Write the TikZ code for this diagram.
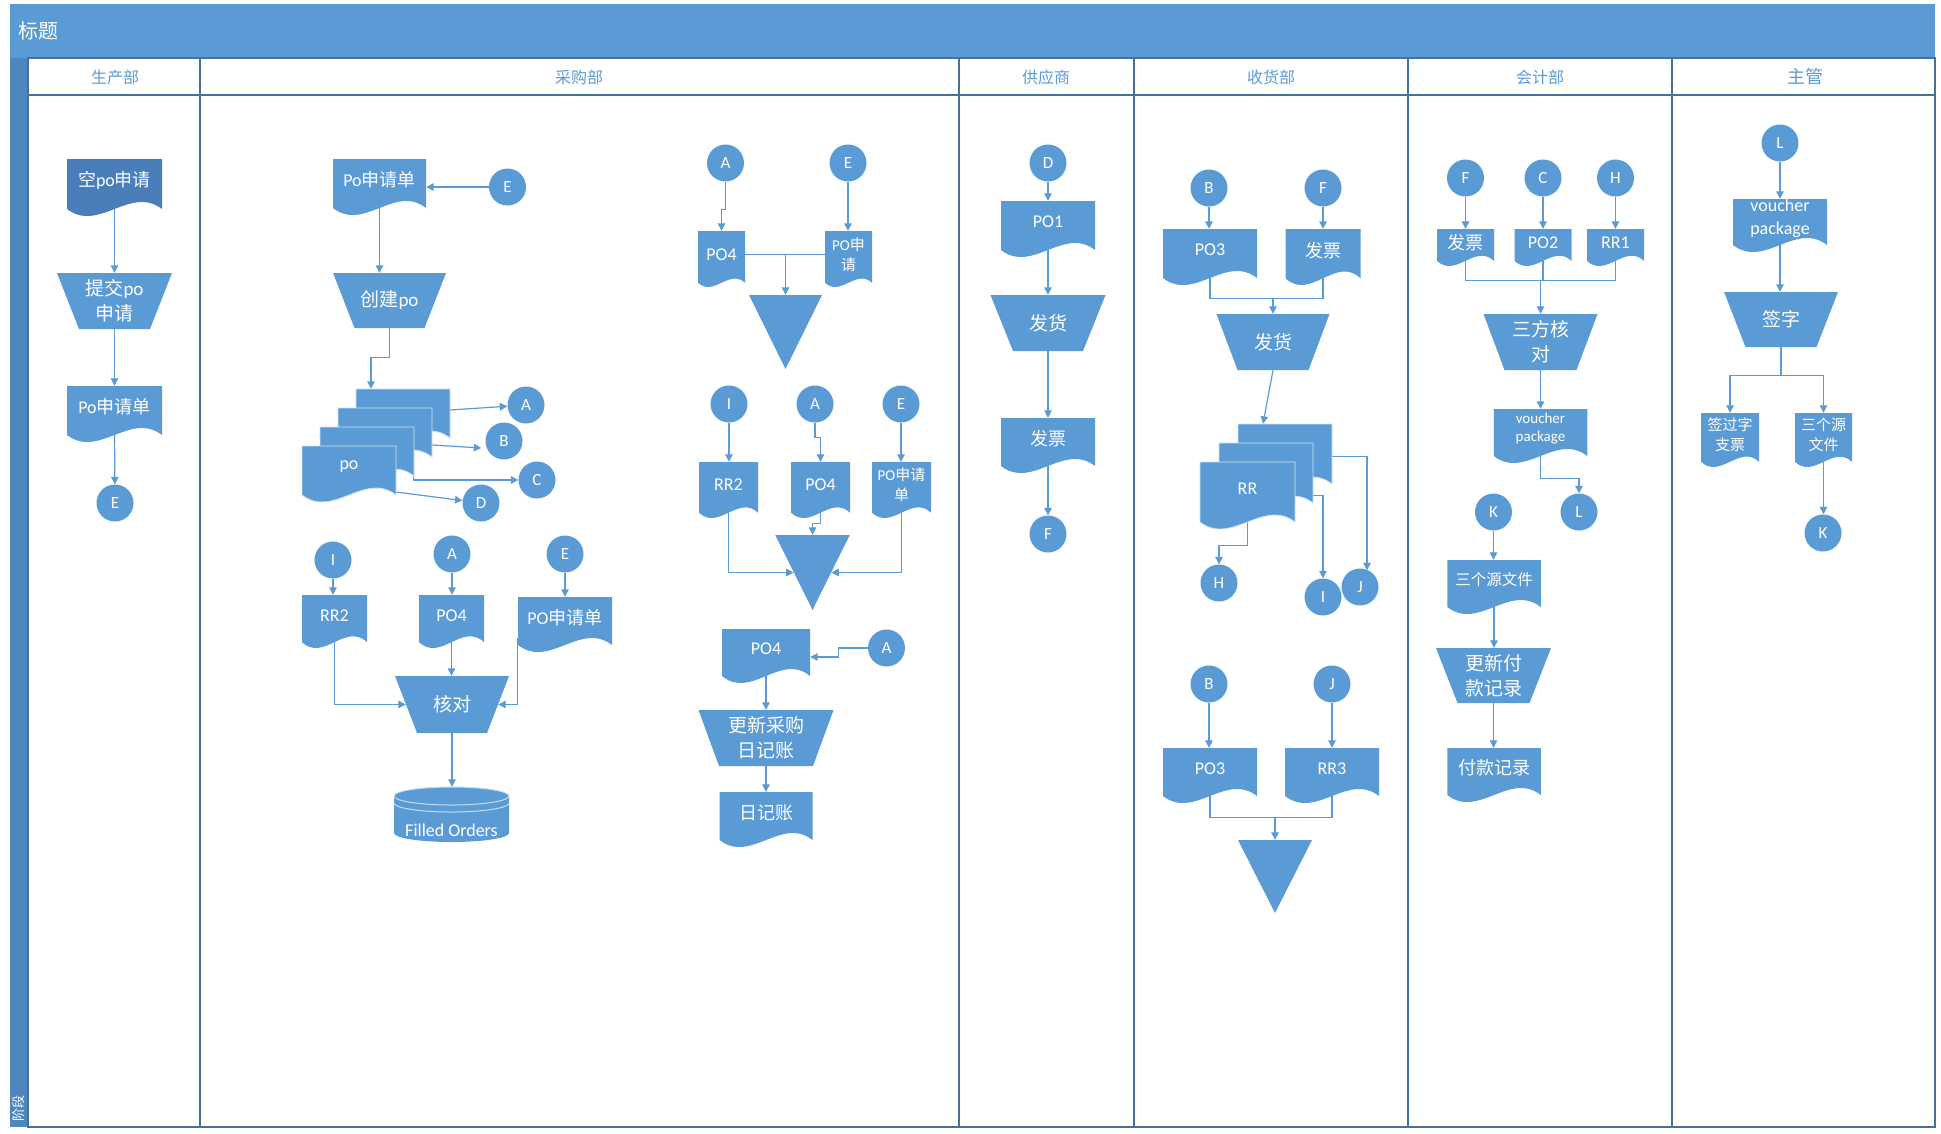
\documentclass[tikz,border=0pt]{standalone}
\usepackage{fontspec}
\setmainfont{Carlito}
\newfontfamily\cjk{Noto Sans CJK SC}
\newcommand\zh[1]{{\cjk #1}}
\usetikzlibrary{arrows.meta}
\pgfdeclarelayer{frame}
\pgfdeclarelayer{conn}
\pgfsetlayers{frame,conn,main}
\definecolor{shp}{HTML}{5B9BD5}
\definecolor{shpdark}{HTML}{4A7EBB}
\definecolor{titlec}{HTML}{5B9BD5}
\definecolor{stripc}{HTML}{4F86BE}
\definecolor{lanec}{HTML}{41719C}
\definecolor{conc}{HTML}{5B9BD5}
\definecolor{headc}{HTML}{5B9BD5}
\tikzset{
 docfill/.style={fill=shp},
 trapfill/.style={fill=shp},
 doctext/.style={text=white,align=center,inner sep=0pt,font=\fontsize{18}{23}\selectfont},
 smalltext/.style={font=\fontsize{15}{20}\selectfont},
 traptext/.style={text=white,align=center,inner sep=0pt,font=\fontsize{19}{25}\selectfont},
 circ/.style={circle,fill=shp,text=white,inner sep=0pt,minimum size=37pt,font=\fontsize{17}{17}\selectfont},
 arr/.style={draw=conc,line width=1.2pt,-{Triangle[length=7.5pt,width=7.5pt]}},
 ln/.style={draw=conc,line width=1.2pt},
 hdr/.style={text=headc,font=\fontsize{16}{16}\selectfont},
 lane/.style={draw=lanec,line width=1.3pt},
}
% document shape: [node opts]{name}{cx}{top}{w}{h}{text}
\newcommand\DOC[7][]{%
  \pgfmathsetmacro\dxa{#3-#5/2}%
  \pgfmathsetmacro\dxb{#3+#5/2}%
  \pgfmathsetmacro\dwv{min(7,0.09*#5)}%
  \pgfmathsetmacro\dyb{#4+#6-\dwv}%
  \pgfmathsetmacro\dk{3.46*\dwv}%
  \pgfmathsetmacro\dca{#3-#5/2+2*#5/3}%
  \pgfmathsetmacro\dcb{#3-#5/2+#5/3}%
  \pgfmathsetmacro\dnh{#6-2*\dwv}%
  \path[docfill] (\dxa,#4) -- (\dxb,#4) -- (\dxb,\dyb) .. controls ({\dca},{\dyb-\dk}) and ({\dcb},{\dyb+\dk}) .. (\dxa,\dyb) -- cycle;
  \node[doctext,#1,minimum width=#5pt,minimum height=\dnh pt] (#2) at (#3,{#4+\dnh/2}) {#7};%
}
% manual operation: [opts]{name}{cx}{top}{wtop}{wbot}{h}{text}
\newcommand\TRAP[8][]{%
  \pgfmathsetmacro\txa{#3-#5/2}%
  \pgfmathsetmacro\txb{#3+#5/2}%
  \pgfmathsetmacro\txc{#3+#6/2}%
  \pgfmathsetmacro\txd{#3-#6/2}%
  \pgfmathsetmacro\tyb{#4+#7}%
  \path[trapfill] (\txa,#4) -- (\txb,#4) -- (\txc,\tyb) -- (\txd,\tyb) -- cycle;
  \node[traptext,#1,minimum width=#5pt,minimum height=#7pt] (#2) at (#3,{#4+#7/2}) {#8};%
}
% inverted triangle: {name}{cx}{top}{w}{h}
\newcommand\TRI[5]{%
  \path[trapfill] ({#2-#4/2},#3) -- ({#2+#4/2},#3) -- (#2,{#3+#5}) -- cycle;
  \node[inner sep=0pt,minimum width=#4pt,minimum height=#5pt] (#1) at (#2,{#3+#5/2}) {};%
}
\begin{document}
\begin{tikzpicture}[x=1pt,y=-1pt]
\useasboundingbox (0,0) rectangle (1941,1133);
\begin{pgfonlayer}{frame}
 \fill[white] (0,0) rectangle (1941,1133);
 \fill[titlec] (10,4) rectangle (1935,58);
 \fill[stripc] (10,58) rectangle (28,1127);
 \draw[lane] (28,58) rectangle (1935,1127);
 \draw[lane] (28,95) -- (1935,95);
 \foreach \x in {200,959,1134,1408,1672} \draw[lane] (\x,58) -- (\x,1127);
\end{pgfonlayer}
% titles
\node[anchor=west,text=white,font=\fontsize{20}{20}\selectfont] (title) at (15,31) {\zh{标题}};
\node[rotate=90,text=white,font=\fontsize{13}{13}\selectfont] (phase) at (19,1108) {\zh{阶段}};
\node[hdr] (lane1) at (115,77) {\zh{生产部}};
\node[hdr] (lane2) at (579,77) {\zh{采购部}};
\node[hdr] (lane3) at (1046,77) {\zh{供应商}};
\node[hdr] (lane4) at (1271,77) {\zh{收货部}};
\node[hdr] (lane5) at (1540,77) {\zh{会计部}};
\node[hdr,font=\fontsize{18}{18}\selectfont] (lane6) at (1805,77) {\zh{主管}};

% ---- lane 1
\begin{scope}[docfill/.style={fill=shpdark}]
\DOC{kp}{114.5}{159}{95}{57}{\zh{空}po\zh{申请}}
\end{scope}
\TRAP{tj}{114.5}{273}{115}{71}{56}{\zh{提交}po\\\zh{申请}}
\DOC{pqa}{114.5}{386}{95}{56}{Po\zh{申请单}}
\node[circ] (e1) at (115,503) {E};

% ---- lane 2 left
\DOC{pqb}{379.5}{159}{93}{56}{Po\zh{申请单}}
\node[circ] (e2) at (507.5,187) {E};
\TRAP{cj}{389.5}{273}{113}{70}{55}{\zh{创建}po}
\begin{scope}[docfill/.style={fill=shp,draw=white!70!shp,line width=0.8pt}]
\DOC{sa}{403}{389}{94}{56}{}
\DOC{sb}{385}{408}{94}{56}{}
\DOC{sc}{367}{427}{94}{56}{}
\DOC{sd}{349}{446}{94}{56}{po}
\end{scope}
\node[circ] (cA) at (526,405) {A};
\node[circ] (cB) at (504,441) {B};
\node[circ] (cC) at (537,480) {C};
\node[circ] (cD) at (481,503) {D};

\node[circ] (i1) at (333,560) {I};
\node[circ] (a1) at (452,554) {A};
\node[circ] (e3) at (565,554) {E};
\DOC{rra}{334.5}{595}{65}{53}{RR2}
\DOC{poa}{451.5}{595}{65}{53}{PO4}
\DOC{pqc}{565}{597}{94}{55}{PO\zh{申请单}}
\TRAP{hd}{452}{676}{114}{70}{57}{\zh{核对}}
% cylinder
\path[fill=shp] (394,796) -- (394,833) arc[start angle=180,end angle=360,x radius=57.5pt,y radius=9pt] -- (509,796) arc[start angle=0,end angle=180,x radius=57.5pt,y radius=9pt] -- cycle;
\draw[white!65!shp,line width=1pt] (451.5,796) ellipse [x radius=57.5pt,y radius=9pt];
\draw[white!65!shp,line width=1pt] (394,803) arc[start angle=180,end angle=360,x radius=57.5pt,y radius=9pt];
\node[inner sep=0pt,minimum width=115pt,minimum height=55pt,
  label={[text=white,font=\fontsize{18}{18}\selectfont,yshift=-16pt]center:Filled Orders}] (fo) at (451.5,814.5) {};

% ---- lane 2 right
\node[circ] (a2) at (725.5,163) {A};
\node[circ] (e4) at (848,163) {E};
\DOC{pob}{721.5}{231}{47}{56}{PO4}
\DOC[smalltext]{pqd}{848.5}{231}{47}{56}{PO\zh{申}\\\zh{请}}
\TRI{ta}{785.5}{295}{73}{74}
\node[circ] (i2) at (729,404) {I};
\node[circ] (a3) at (815,404) {A};
\node[circ] (e5) at (901,404) {E};
\DOC{rrb}{728.5}{462}{59}{56}{RR2}
\DOC{poc}{820.5}{462}{59}{56}{PO4}
\DOC[smalltext]{pqe}{901.5}{462}{59}{56}{PO\zh{申请}\\\zh{单}}
\TRI{tb}{812.5}{535}{74.5}{75}
\DOC{pod}{766}{629}{88}{54}{PO4}
\node[circ] (a4) at (886.5,648) {A};
\TRAP{gx}{766}{710}{135}{94}{56}{\zh{更新采购}\\\zh{日记账}}
\DOC{rj}{766}{792}{93}{55}{\zh{日记账}}

% ---- lane 3
\node[circ] (d2) at (1048,163) {D};
\DOC{poe}{1048}{201}{94}{56}{PO1}
\TRAP{fha}{1048}{295}{115}{70}{56}{\zh{发货}}
\DOC{fpa}{1048}{418}{94}{55}{\zh{发票}}
\node[circ] (f1) at (1048,534) {F};

% ---- lane 4
\node[circ] (b1) at (1209,188) {B};
\node[circ] (f2) at (1323,188) {F};
\DOC{pof}{1210}{229}{94}{56}{PO3}
\DOC{fpb}{1323}{229}{75}{56}{\zh{发票}}
\TRAP{fhb}{1273}{314}{113}{71}{56}{\zh{发货}}
\begin{scope}[docfill/.style={fill=shp,draw=white!70!shp,line width=0.8pt}]
\DOC{ra}{1285}{424}{94}{67}{}
\DOC{rb}{1266}{443}{94}{67}{}
\DOC{rc}{1247.5}{462}{95}{67}{RR}
\end{scope}
\node[circ] (h1) at (1219,583) {H};
\node[circ] (i3) at (1323,597) {I};
\node[circ] (j1) at (1360,587) {J};
\node[circ] (b2) at (1209,684) {B};
\node[circ] (j2) at (1332,684) {J};
\DOC{pog}{1210}{748}{94}{55}{PO3}
\DOC{rr3}{1332}{748}{94}{55}{RR3}
\TRI{tc}{1275}{840}{74}{73}

% ---- lane 5
\node[circ] (f3) at (1465.5,178) {F};
\node[circ] (c2) at (1543,178) {C};
\node[circ] (h2) at (1615.5,178) {H};
\DOC{fpc}{1465.5}{229}{57}{37}{\zh{发票}}
\DOC{po2}{1543}{229}{57}{37}{PO2}
\DOC{rr1}{1615.5}{229}{57}{37}{RR1}
\TRAP{sf}{1540.5}{314}{114}{72}{56}{\zh{三方核}\\\zh{对}}
\DOC[font=\fontsize{15}{18}\selectfont]{vpa}{1540.5}{409}{93.5}{54}{voucher\\package}
\node[circ] (l1) at (1579,512) {L};
\node[circ] (k1) at (1493.5,512) {K};
\DOC[font=\fontsize{15.5}{20}\selectfont]{sya}{1494}{560}{93.5}{54}{\zh{三个源文件}}
\TRAP{gf}{1493.5}{648}{115}{72}{55}{\zh{更新付}\\\zh{款记录}}
\DOC{fk}{1494}{748}{93.5}{54}{\zh{付款记录}}

% ---- lane 6
\node[circ] (l2) at (1780,143) {L};
\DOC{vpb}{1780}{199}{94}{53}{voucher\\package}
\TRAP{qz}{1781}{292}{114}{71}{55}{\zh{签字}}
\DOC[smalltext]{qg}{1730}{413}{58}{54}{\zh{签过字}\\\zh{支票}}
\DOC[smalltext]{syb}{1823.5}{413}{57}{54}{\zh{三个源}\\\zh{文件}}
\node[circ] (k2) at (1823,533) {K};

% ================= connectors
\begin{pgfonlayer}{conn}
% lane 1
\draw[arr] (kp.south) -- (tj.north);
\draw[arr] (tj.south) -- (pqa.north);
\draw[arr] (pqa.south) -- (e1);
% lane 2 left
\draw[arr] (e2) -- (e2 -| pqb.east);
\draw[arr] (pqb.south) -- (pqb.south |- cj.north);
\draw[arr] (cj.south) -- ++(0,29) -| ([xshift=-32pt]sa.north);
\draw[arr] (sa.east) -- (cA);
\draw[arr] ([yshift=-16pt]sb.east) -- ([xshift=-4pt,yshift=-7pt]cB.west);
\draw[arr] ([xshift=-1pt]sc.east) |- (cC);
\draw[arr] ([yshift=-25pt]sd.east) -- (cD);
\draw[arr] (i1) -- (i1 |- rra.north);
\draw[arr] (a1) -- (a1 |- poa.north);
\draw[arr] (e3) -- (e3 |- pqc.north);
\draw[arr] (rra.south) |- ([xshift=11pt]hd.west);
\draw[arr] (poa.south) -- (poa.south |- hd.north);
\draw[arr] (pqc.south west) |- ([xshift=-11pt]hd.east);
\draw[arr] (hd.south) -- (hd.south |- fo.north);
% lane 2 right
\draw[arr] (a2.south) -- ++(0,28) -| (pob.north);
\draw[arr] (e4) -- (e4 |- pqd.north);
\draw[ln] (pob.east) -- (pqd.west);
\draw[arr] (pob.east -| ta.north) -- (ta.north);
\draw[arr] (i2) -- (i2 |- rrb.north);
\draw[arr] (a3.south) -- ++(0,15) -| (poc.north);
\draw[arr] (e5) -- (e5 |- pqe.north);
\draw[arr] (rrb.south) |- ([xshift=18.6pt]tb.west);
\draw[arr] (poc.south) |- ([yshift=11pt]tb.north) -- (tb.north);
\draw[arr] (pqe.south) |- ([xshift=-18.6pt]tb.east);
\draw[arr] (a4.west) -- ++(-29,0) |- ([yshift=-8pt]pod.east);
\draw[arr] (pod.south) -- (gx.north);
\draw[arr] (gx.south) -- (rj.north);
% lane 3
\draw[arr] (d2) -- (poe.north);
\draw[arr] (poe.south) -- (fha.north);
\draw[arr] (fha.south) -- (fpa.north);
\draw[arr] (fpa.south) -- (f1);
% lane 4
\draw[arr] (b1) -- (b1 |- pof.north);
\draw[arr] (f2) -- (fpb.north);
\coordinate (m1) at ([yshift=15pt]fhb.north);
\draw[ln] (pof.south) |- (m1) -| (fpb.south);
\draw[arr] (m1) -- (fhb.north);
\draw[arr] (fhb.south) -- ([xshift=-22pt]ra.north);
\draw[arr] (rc.south) |- ([yshift=19pt]h1.north) -- (h1.north);
\draw[arr] ([yshift=-26pt]rb.east) -| (i3.north);
\draw[arr] ([yshift=-6pt]ra.east) -| ([xshift=7pt,yshift=-2pt]j1.north);
\draw[arr] (b2) -- (b2 |- pog.north);
\draw[arr] (j2) -- (rr3.north);
\coordinate (m2) at ([yshift=22pt]tc.north);
\draw[ln] (pog.south) |- (m2) -| (rr3.south);
\draw[arr] (m2) -- (tc.north);
% lane 5
\draw[arr] (f3) -- (fpc.north);
\draw[arr] (c2) -- (po2.north);
\draw[arr] (h2) -- (rr1.north);
\coordinate (m3) at ([yshift=33pt]sf.north);
\draw[ln] (fpc.south) |- (m3) -| (rr1.south);
\draw[ln] (po2.south) -- (po2.south |- m3);
\draw[arr] (m3) -- (sf.north);
\draw[arr] (sf.south) -- (vpa.north);
\draw[arr] (vpa.south) |- ([yshift=15pt]l1.north) -- (l1.north);
\draw[arr] (k1) -- (k1 |- sya.north);
\draw[arr] (sya.south) -- (sya.south |- gf.north);
\draw[arr] (gf.south) -- (gf.south |- fk.north);
% lane 6
\draw[arr] (l2) -- (vpb.north);
\draw[arr] (vpb.south) -- (vpb.south |- qz.north);
\coordinate (m4) at ([yshift=-28pt]qz.south);
\draw[ln] (qz.south) -- (m4);
\draw[arr] (m4) -| (qg.north);
\draw[arr] (m4) -| (syb.north);
\draw[arr] (syb.south) -- (syb.south |- k2.north);
\end{pgfonlayer}
\end{tikzpicture}
\end{document}
